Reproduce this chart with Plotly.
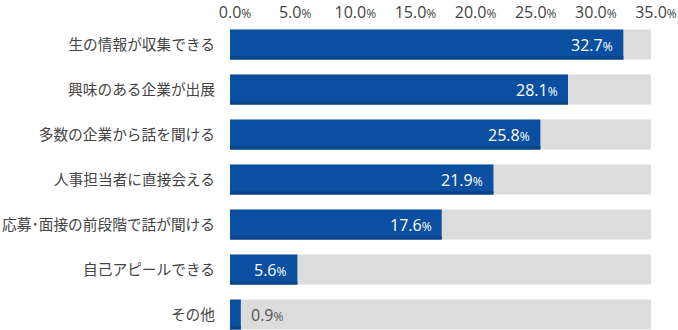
import plotly.graph_objects as go

categories = ["生の情報が収集できる", "興味のある企業が出展", "多数の企業から話を聞ける",
              "人事担当者に直接会える", "応募･面接の前段階で話が聞ける", "自己アピールできる", "その他"]
values = [32.7, 28.1, 25.8, 21.9, 17.6, 5.6, 0.9]
tick_vals = [0, 5, 10, 15, 20, 25, 30, 35]
tick_text = [f"{v:.1f}<span style='font-size:12px'>%</span>" for v in tick_vals]
axis_max = 35

BLUE = "#0B50A0"
BLUE_DARK = "#0A448A"
GRAY = "#DCDCDC"
TXT = "#444444"
FONT = "Noto Sans CJK JP, Noto Sans, sans-serif"
NUMFONT = "Open Sans, Noto Sans, sans-serif"

fig = go.Figure()
fig.add_trace(go.Bar(y=categories, x=[axis_max] * len(categories), orientation="h",
                     marker=dict(color=GRAY, line=dict(width=0)), width=0.667, offset=-0.333,
                     hoverinfo="skip"))
fig.add_trace(go.Bar(y=categories, x=values, orientation="h",
                     marker=dict(color=BLUE, line=dict(width=0)), width=0.667, offset=-0.333))
fig.add_trace(go.Bar(y=categories, x=values, orientation="h",
                     marker=dict(color=BLUE_DARK, line=dict(width=0)), width=0.07, offset=0.263,
                     hoverinfo="skip"))

for c, v in zip(categories, values):
    label = f"{v:.1f}<span style='font-size:12px'>%</span>"
    if v >= 3:
        fig.add_annotation(x=v, y=c, xref="x", yref="y", text=label, showarrow=False,
                           xanchor="right", xshift=-8, yshift=0,
                           font=dict(family=NUMFONT, size=16, color="white"))
    else:
        fig.add_annotation(x=v, y=c, xref="x", yref="y", text=label, showarrow=False,
                           xanchor="left", xshift=8, yshift=0,
                           font=dict(family=NUMFONT, size=16, color="#555555"))

fig.update_layout(
    width=678, height=330,
    margin=dict(l=230, r=27, t=22, b=0),
    barmode="overlay", showlegend=False,
    plot_bgcolor="white", paper_bgcolor="white",
    font=dict(family=FONT, color=TXT),
)
fig.update_xaxes(range=[0, axis_max], side="top", tickvals=tick_vals, ticktext=tick_text,
                 showgrid=False, zeroline=False, showline=False,
                 tickfont=dict(size=16, color=TXT, family=NUMFONT), ticklabelshift=5,
                 ticklabelstandoff=0)
fig.update_yaxes(range=[6.344, -0.5], showgrid=False, zeroline=False, showline=False,
                 tickfont=dict(size=14.7, color=TXT, family=FONT), ticklabelstandoff=14)

fig.write_html("out.html")
